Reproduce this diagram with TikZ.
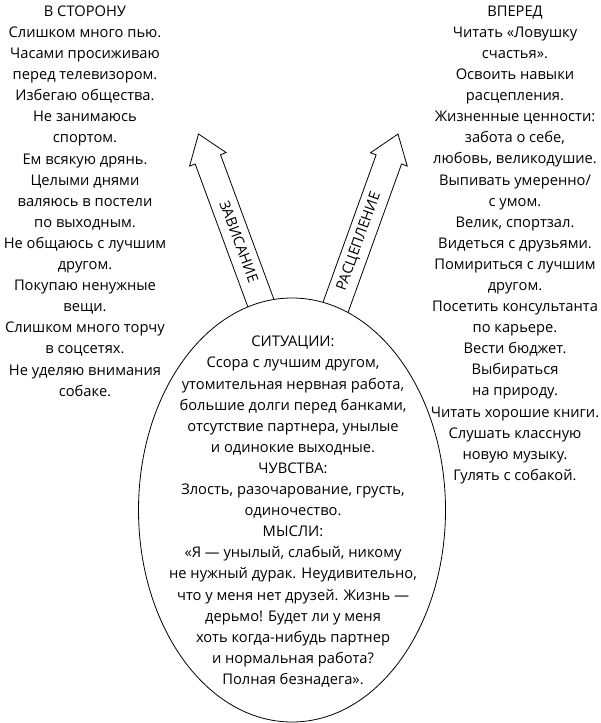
\documentclass[tikz,border=0pt]{standalone}
\usepackage{fontspec}
\setmainfont{Open Sans}
\usetikzlibrary{shapes.geometric}
\tikzset{
  txt/.style={align=center, inner sep=0pt, font=\fontsize{14.7}{21.1}\selectfont},
  arrowshape/.style={draw=black, line width=0.8pt, fill=white, line join=miter},
  arrowlabel/.style={inner sep=0pt, font=\fontsize{14.5}{16}\selectfont},
  oval/.style={draw=black, line width=0.8pt, fill=white, ellipse, inner sep=0pt}
}
\begin{document}
\begin{tikzpicture}[x=1pt,y=-1pt]
\useasboundingbox[fill=white] (0,0) rectangle (600,723);
% left arrow
\draw[arrowshape] (255.0,326.3) -- (195.2,164.0) -- (189.6,166.1) -- (198.5,134) -- (226.1,152.6) -- (220.5,154.7) -- (280.4,316.9) -- cycle;
% right arrow
\draw[arrowshape] (317.5,317.5) -- (376.15,154.83) -- (370.5,152.8) -- (398,134) -- (407.2,166.0) -- (401.55,163.97) -- (342.9,326.7) -- cycle;
\node[arrowlabel, rotate=-69.7] (lab1) at (239,241.7) {ЗАВИСАНИЕ};
\node[arrowlabel, rotate=70.2] (lab2) at (359,241.7) {РАСЦЕПЛЕНИЕ};
% ellipse
\node[oval, minimum width=307pt, minimum height=424pt] (egg) at (292,510) {};
\node[txt, anchor=north] (situ) at (293,336) {СИТУАЦИИ:\\Ссора с лучшим другом,\\утомительная нервная работа,\\большие долги перед банками,\\отсутствие партнера, унылые\\и одинокие выходные.\\ЧУВСТВА:\\Злость, разочарование, грусть,\\одиночество.\\МЫСЛИ:\\«Я — унылый, слабый, никому\\не нужный дурак. Неудивительно,\\что у меня нет друзей. Жизнь —\\дерьмо! Будет ли у меня\\хоть когда-нибудь партнер\\и нормальная работа?\\Полная безнадега».};
\node[txt, anchor=north] (left) at (85,5.5) {В СТОРОНУ\\Слишком много пью.\\Часами просиживаю\\перед телевизором.\\Избегаю общества.\\Не занимаюсь\\спортом.\\Ем всякую дрянь.\\Целыми днями\\валяюсь в постели\\по выходным.\\Не общаюсь с лучшим\\другом.\\Покупаю ненужные\\вещи.\\Слишком много торчу\\в соцсетях.\\Не уделяю внимания\\собаке.};
\node[txt, anchor=north] (right) at (515,5.5) {ВПЕРЕД\\Читать «Ловушку\\счастья».\\Освоить навыки\\расцепления.\\Жизненные ценности:\\забота о себе,\\любовь, великодушие.\\Выпивать умеренно/\\с умом.\\Велик, спортзал.\\Видеться с друзьями.\\Помириться с лучшим\\другом.\\Посетить консультанта\\по карьере.\\Вести бюджет.\\Выбираться\\на природу.\\Читать хорошие книги.\\Слушать классную\\новую музыку.\\Гулять с собакой.};
\end{tikzpicture}
\end{document}
